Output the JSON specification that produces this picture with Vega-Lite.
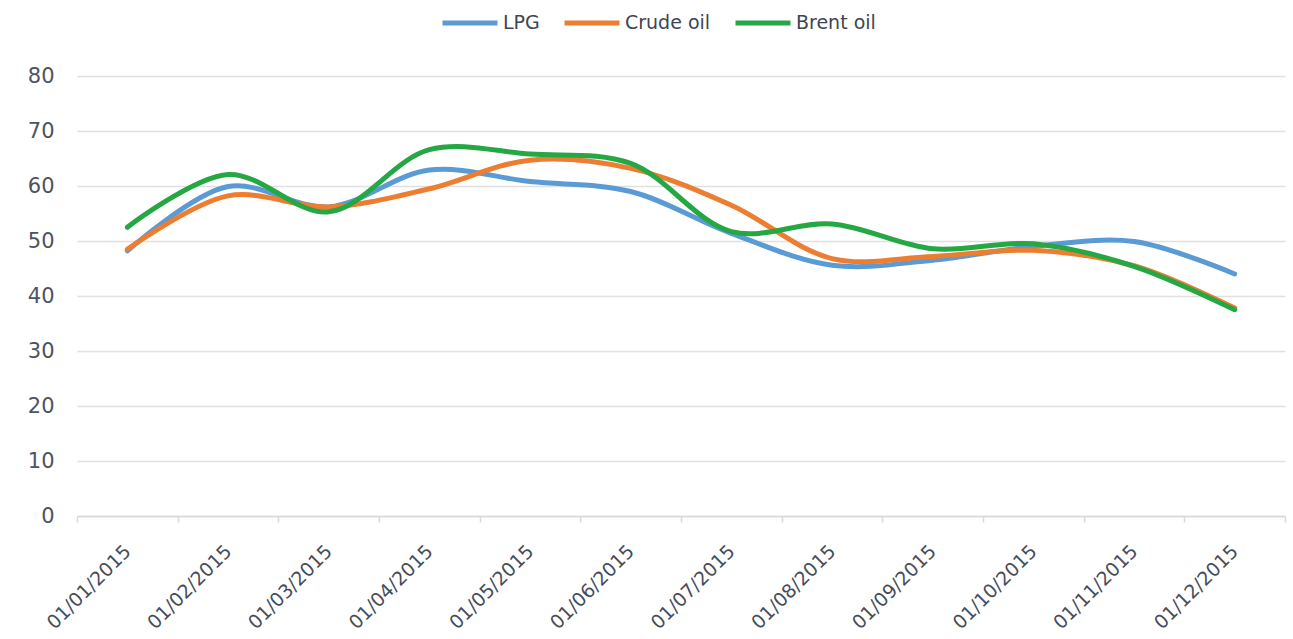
{
  "$schema": "https://vega.github.io/schema/vega-lite/v6.json",
  "width": 1208,
  "height": 440,
  "autosize": {"type": "none"},
  "padding": {"left": 77, "top": 76, "right": 8, "bottom": 123},
  "background": "white",
  "config": {"view": {"stroke": null}},
  "data": {
    "values": [
      {"date": "01/01/2015", "series": "LPG", "value": 48.2},
      {"date": "01/02/2015", "series": "LPG", "value": 59.9},
      {"date": "01/03/2015", "series": "LPG", "value": 56.2},
      {"date": "01/04/2015", "series": "LPG", "value": 62.9},
      {"date": "01/05/2015", "series": "LPG", "value": 60.8},
      {"date": "01/06/2015", "series": "LPG", "value": 59.0},
      {"date": "01/07/2015", "series": "LPG", "value": 51.4},
      {"date": "01/08/2015", "series": "LPG", "value": 45.6},
      {"date": "01/09/2015", "series": "LPG", "value": 46.5},
      {"date": "01/10/2015", "series": "LPG", "value": 49.0},
      {"date": "01/11/2015", "series": "LPG", "value": 49.9},
      {"date": "01/12/2015", "series": "LPG", "value": 44.0},
      {"date": "01/01/2015", "series": "Crude oil", "value": 48.5},
      {"date": "01/02/2015", "series": "Crude oil", "value": 58.2},
      {"date": "01/03/2015", "series": "Crude oil", "value": 56.2},
      {"date": "01/04/2015", "series": "Crude oil", "value": 59.5},
      {"date": "01/05/2015", "series": "Crude oil", "value": 64.7},
      {"date": "01/06/2015", "series": "Crude oil", "value": 63.2},
      {"date": "01/07/2015", "series": "Crude oil", "value": 56.5},
      {"date": "01/08/2015", "series": "Crude oil", "value": 46.8},
      {"date": "01/09/2015", "series": "Crude oil", "value": 47.2},
      {"date": "01/10/2015", "series": "Crude oil", "value": 48.3},
      {"date": "01/11/2015", "series": "Crude oil", "value": 45.5},
      {"date": "01/12/2015", "series": "Crude oil", "value": 37.8},
      {"date": "01/01/2015", "series": "Brent oil", "value": 52.5},
      {"date": "01/02/2015", "series": "Brent oil", "value": 62.1},
      {"date": "01/03/2015", "series": "Brent oil", "value": 55.3},
      {"date": "01/04/2015", "series": "Brent oil", "value": 66.6},
      {"date": "01/05/2015", "series": "Brent oil", "value": 65.8},
      {"date": "01/06/2015", "series": "Brent oil", "value": 64.1},
      {"date": "01/07/2015", "series": "Brent oil", "value": 51.7},
      {"date": "01/08/2015", "series": "Brent oil", "value": 53.1},
      {"date": "01/09/2015", "series": "Brent oil", "value": 48.6},
      {"date": "01/10/2015", "series": "Brent oil", "value": 49.5},
      {"date": "01/11/2015", "series": "Brent oil", "value": 45.4},
      {"date": "01/12/2015", "series": "Brent oil", "value": 37.5}
    ]
  },
  "mark": {"type": "line", "interpolate": "catmull-rom", "strokeWidth": 5, "strokeCap": "round", "strokeJoin": "round"},
  "encoding": {
    "x": {
      "field": "date",
      "type": "nominal",
      "sort": null,
      "scale": {"type": "band", "paddingInner": 0, "paddingOuter": 0},
      "axis": {
        "title": null,
        "grid": false,
        "domain": true,
        "domainColor": "#d9d9d9",
        "domainWidth": 1.5,
        "ticks": true,
        "tickBand": "extent",
        "tickSize": 6,
        "tickColor": "#d9d9d9",
        "tickWidth": 1.5,
        "labelAngle": -45,
        "labelAlign": "right",
        "labelBaseline": "middle",
        "labelPadding": 26,
        "labelFont": "DejaVu Sans",
        "labelFontSize": 19,
        "labelColor": "#464c5a"
      }
    },
    "y": {
      "field": "value",
      "type": "quantitative",
      "scale": {"domain": [0, 80], "nice": false},
      "axis": {
        "title": null,
        "values": [0, 10, 20, 30, 40, 50, 60, 70, 80],
        "domain": false,
        "ticks": false,
        "grid": true,
        "gridColor": "#e0e0e0",
        "gridWidth": 1.5,
        "labelPadding": 23,
        "labelFont": "DejaVu Sans",
        "labelFontSize": 21,
        "labelColor": "#4d5361"
      }
    },
    "color": {
      "field": "series",
      "type": "nominal",
      "sort": ["LPG", "Crude oil", "Brent oil"],
      "scale": {"domain": ["LPG", "Crude oil", "Brent oil"], "range": ["#5B9BD5", "#ED7D31", "#25A744"]},
      "legend": {
        "title": null,
        "orient": "none",
        "direction": "horizontal",
        "legendX": 363,
        "legendY": -83,
        "symbolType": "stroke",
        "symbolSize": 3025,
        "symbolStrokeWidth": 5,
        "labelOffset": 3,
        "columnPadding": 14,
        "labelFont": "DejaVu Sans",
        "labelFontSize": 19,
        "labelColor": "#404552"
      }
    }
  }
}
